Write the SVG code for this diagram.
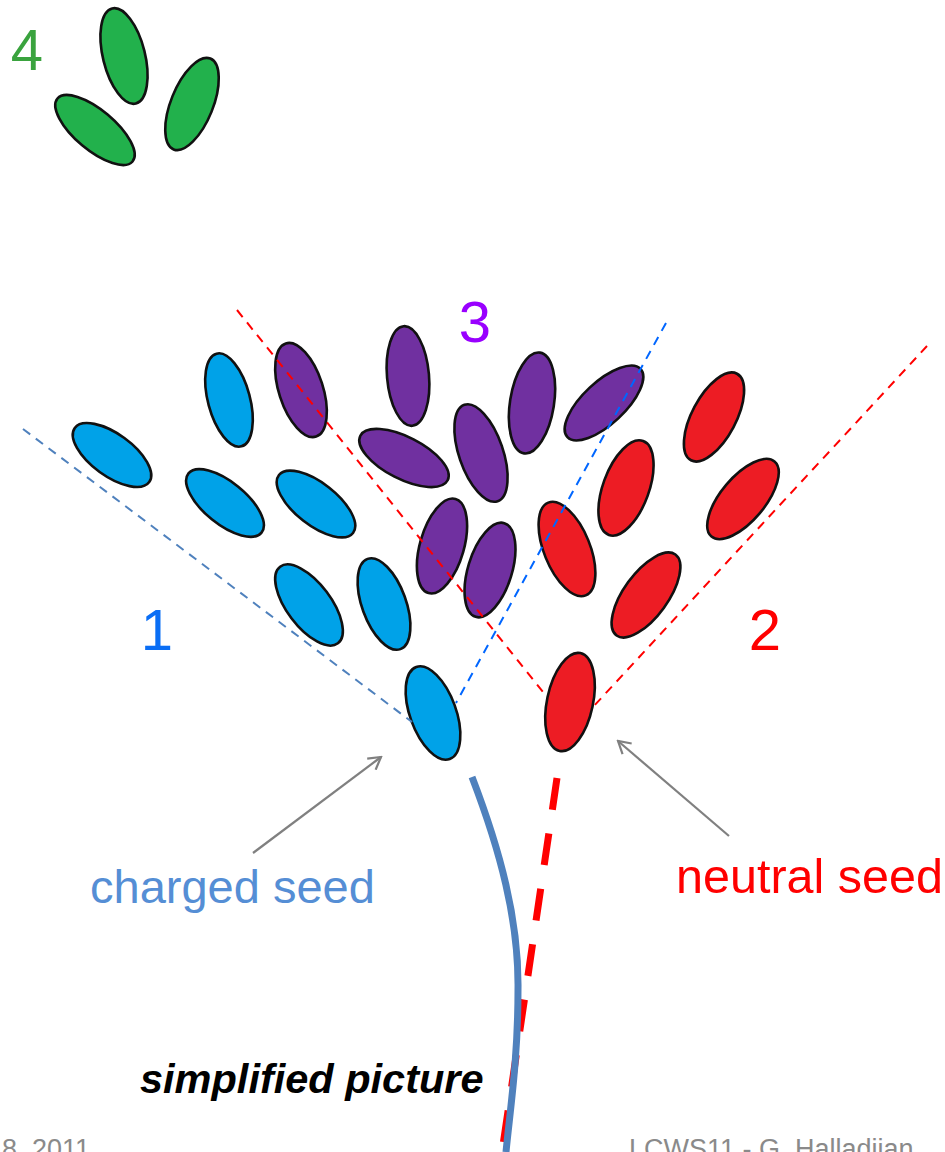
<svg xmlns="http://www.w3.org/2000/svg" width="945" height="1152" viewBox="0 0 945 1152">
  <defs>
    <style>
      .cell { stroke: #111; stroke-width: 2.6; }
      .green { fill: #22B14C; }
      .blue { fill: #00A2E8; }
      .purple { fill: #7030A0; }
      .red { fill: #ED1C24; }
      .num { font-family: "Liberation Sans", Arial, sans-serif; font-size: 58px; text-anchor: middle; }
      .label { font-family: "Liberation Sans", Arial, sans-serif; }
      .footer { font-family: "Liberation Sans", Arial, sans-serif; font-size: 27px; fill: #8A8A8A; }
      .cone { fill: none; stroke-width: 2; stroke-dasharray: 9 7; }
      .pointer { fill: none; stroke: #808080; stroke-width: 2.2; }
    </style>
    <marker id="openArrow" viewBox="0 0 16 16" refX="14" refY="8" markerWidth="16" markerHeight="16" markerUnits="userSpaceOnUse" orient="auto">
      <path d="M2,1 L14,8 L2,15" fill="none" stroke="#808080" stroke-width="2.2"/>
    </marker>
  </defs>

  <rect width="945" height="1152" fill="#FFFFFF"/>

  <!-- cluster 4 (green) -->
  <g id="cluster4">
    <ellipse class="cell green" rx="21" ry="49" transform="translate(124,56) rotate(-14)"/>
    <ellipse class="cell green" rx="49" ry="20" transform="translate(95,130) rotate(40)"/>
    <ellipse class="cell green" rx="21" ry="49" transform="translate(192,104) rotate(22)"/>
    <text class="num" x="27" y="70" fill="#3AA33E">4</text>
  </g>

  <!-- cluster 1 (charged, blue) -->
  <g id="cluster1">
    <ellipse class="cell blue" rx="21" ry="48" transform="translate(229,400) rotate(-15)"/>
    <ellipse class="cell blue" rx="46" ry="21" transform="translate(112,455) rotate(36)"/>
    <ellipse class="cell blue" rx="47" ry="21" transform="translate(225,503) rotate(39)"/>
    <ellipse class="cell blue" rx="47" ry="21" transform="translate(316,504) rotate(38)"/>
    <ellipse class="cell blue" rx="22" ry="48" transform="translate(309,605) rotate(-37)"/>
    <ellipse class="cell blue" rx="22" ry="48" transform="translate(384,604) rotate(-20)"/>
    <ellipse class="cell blue" rx="23" ry="49" transform="translate(433,713) rotate(-20)"/>
    <text class="num" x="157" y="650" fill="#0A6EF5">1</text>
  </g>

  <!-- cluster 3 (purple) -->
  <g id="cluster3">
    <ellipse class="cell purple" rx="22" ry="49" transform="translate(301,390) rotate(-18)"/>
    <ellipse class="cell purple" rx="21" ry="50" transform="translate(408,376) rotate(-5)"/>
    <ellipse class="cell purple" rx="49" ry="21" transform="translate(404,458) rotate(27)"/>
    <ellipse class="cell purple" rx="22" ry="51" transform="translate(481,453) rotate(-19)"/>
    <ellipse class="cell purple" rx="22" ry="51" transform="translate(532,403) rotate(9)"/>
    <ellipse class="cell purple" rx="50" ry="21" transform="translate(604,403) rotate(-43)"/>
    <ellipse class="cell purple" rx="22" ry="49" transform="translate(442,546) rotate(16)"/>
    <ellipse class="cell purple" rx="22" ry="49" transform="translate(490,570) rotate(17)"/>
    <text class="num" x="475" y="342" fill="#9900FF">3</text>
  </g>

  <!-- cluster 2 (neutral, red) -->
  <g id="cluster2">
    <ellipse class="cell red" rx="23" ry="50" transform="translate(567,549) rotate(-22)"/>
    <ellipse class="cell red" rx="23" ry="50" transform="translate(626,488) rotate(20)"/>
    <ellipse class="cell red" rx="22" ry="50" transform="translate(646,595) rotate(36)"/>
    <ellipse class="cell red" rx="22" ry="49" transform="translate(714,417) rotate(28)"/>
    <ellipse class="cell red" rx="22" ry="49" transform="translate(743,499) rotate(40)"/>
    <ellipse class="cell red" rx="23" ry="50" transform="translate(570,702) rotate(12)"/>
    <text class="num" x="765" y="650" fill="#FF0000">2</text>
  </g>

  <!-- cone boundaries, pointers and tracks -->
  <g id="connectors">
    <line class="cone" x1="23" y1="429" x2="412" y2="722" stroke="#4F81BD"/>
    <line class="cone" x1="666" y1="323" x2="456" y2="703" stroke="#0066FF"/>
    <line class="cone" x1="237" y1="310" x2="547" y2="697" stroke="#FF0000"/>
    <line class="cone" x1="927" y1="346" x2="593" y2="707" stroke="#FF0000"/>

    <line class="pointer" x1="253" y1="853" x2="381" y2="757" marker-end="url(#openArrow)"/>
    <line class="pointer" x1="729" y1="836" x2="618" y2="741" marker-end="url(#openArrow)"/>

    <!-- neutral track (dashed) -->
    <line x1="557" y1="778" x2="502" y2="1152" stroke="#FF0000" stroke-width="7" stroke-dasharray="32 24"/>
    <!-- charged track -->
    <path d="M472,777 C500,850 519,920 518,990 C518,1060 510,1110 506,1152" fill="none" stroke="#4F81BD" stroke-width="7"/>
  </g>

  <!-- labels -->
  <g id="labels">
    <text class="label" x="90" y="903" font-size="47" fill="#558ED5">charged seed</text>
    <text class="label" x="676" y="893" font-size="48.5" fill="#FF0000">neutral seed</text>
    <text class="label" x="140" y="1093" font-size="41.5" font-weight="bold" font-style="italic" fill="#000000">simplified picture</text>
  </g>

  <!-- footer -->
  <g id="footer">
    <text class="footer" x="2" y="1158">8, 2011</text>
    <text class="footer" x="629" y="1158">LCWS11 - G. Halladjian</text>
  </g>
</svg>
